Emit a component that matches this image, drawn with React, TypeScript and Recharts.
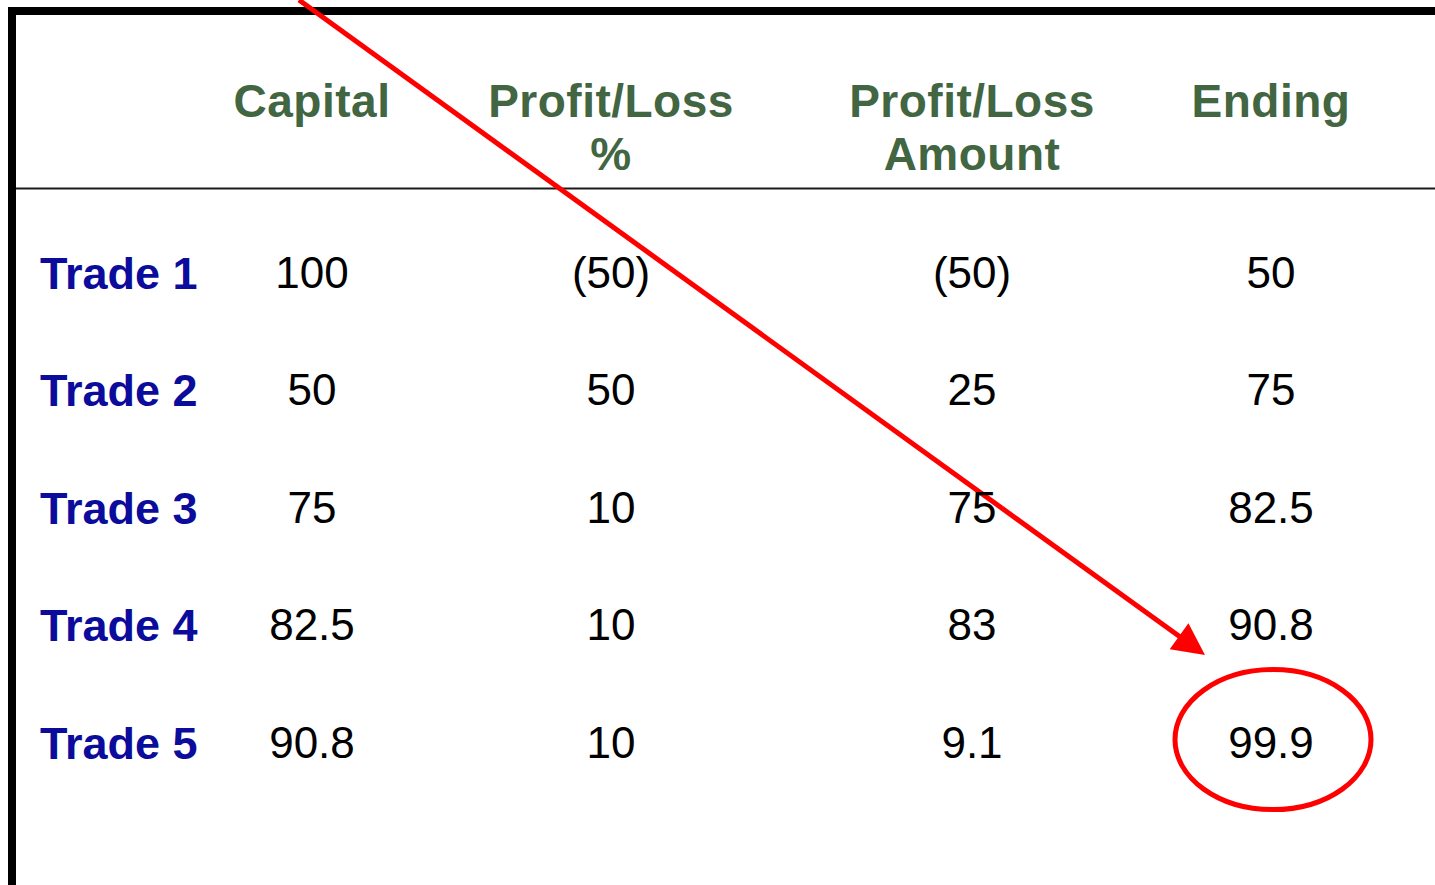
import React from "react";
import {
  ComposedChart,
  XAxis,
  YAxis,
  Scatter,
  ReferenceLine,
  ReferenceDot,
} from "recharts";

// ---- data ----
const trades = ["Trade 1", "Trade 2", "Trade 3", "Trade 4", "Trade 5"];
const headers = [["Capital"], ["Profit/Loss", "%"], ["Profit/Loss", "Amount"], ["Ending"]];
const capital = [100, 50, 75, 82.5, 90.8];
const profitLossPct = [-50, 50, 10, 10, 10];
const profitLossAmt = [-50, 25, 75, 83, 9.1];
const ending = [50, 75, 82.5, 90.8, 99.9];
const highlighted = { column: 3, row: 4 };

// ---- layout ----
const W = 1435;
const H = 885;
const COL_X = [312, 611, 972, 1271];
const LABEL_X = 40;
const ROW_Y0 = 272;
const ROW_STEP = 117.4;
const HEADER_Y = 101;
const HEADER_LINE_GAP = 53;
const FONT = "Arial, 'Liberation Sans', Helvetica, sans-serif";
const GREEN = "#426542";
const BLUE = "#0b0b9c";
const RED = "#ff0000";

const fmt = (v: number) => (v < 0 ? `(${Math.abs(v)})` : `${v}`);

const columns = [capital, profitLossPct, profitLossAmt, ending];

const rowY = (i: number) => ROW_Y0 + i * ROW_STEP;

const headerData = headers.map((lines, c) => ({ x: COL_X[c], y: HEADER_Y, lines }));
const labelData = trades.map((t, i) => ({ x: LABEL_X, y: rowY(i), text: t }));
const cellData = columns.map((vals, c) =>
  vals.map((v, i) => ({ x: COL_X[c], y: rowY(i), text: fmt(v) }))
);

const HeaderShape = (p: any) => {
  const lines: string[] = p.payload.lines;
  return (
    <g>
      {lines.map((l, k) => (
        <text
          key={k}
          x={p.cx}
          y={p.cy + 16 + k * HEADER_LINE_GAP}
          textAnchor="middle"
          fontFamily={FONT}
          fontWeight="bold"
          fontSize={46}
          fill={GREEN}
          letterSpacing={0.5}
        >
          {l}
        </text>
      ))}
    </g>
  );
};

const LabelShape = (p: any) => (
  <text
    x={p.cx}
    y={p.cy + 17}
    textAnchor="start"
    fontFamily={FONT}
    fontWeight="bold"
    fontSize={45}
    fill={BLUE}
  >
    {p.payload.text}
  </text>
);

const CellShape = (p: any) => (
  <text
    x={p.cx}
    y={p.cy + 16}
    textAnchor="middle"
    fontFamily={FONT}
    fontSize={44}
    fill="#000"
  >
    {p.payload.text}
  </text>
);

const ARROW_START = { x: 299, y: 0 };
const ARROW_TIP = { x: 1205, y: 655 };
const HEAD_LEN = 32;
const HEAD_HALF = 16;
const dx = ARROW_TIP.x - ARROW_START.x;
const dy = ARROW_TIP.y - ARROW_START.y;
const len = Math.sqrt(dx * dx + dy * dy);
const ux = dx / len;
const uy = dy / len;
const ARROW_END = { x: ARROW_TIP.x - ux * (HEAD_LEN - 4), y: ARROW_TIP.y - uy * (HEAD_LEN - 4) };

const ArrowHead = (p: any) => {
  const bx = p.cx - ux * HEAD_LEN;
  const by = p.cy - uy * HEAD_LEN;
  const pts = [
    [p.cx, p.cy],
    [bx - uy * HEAD_HALF, by + ux * HEAD_HALF],
    [bx + uy * HEAD_HALF, by - ux * HEAD_HALF],
  ]
    .map((q) => q.join(","))
    .join(" ");
  return <polygon points={pts} fill={RED} />;
};

const EllipseShape = (p: any) => (
  <ellipse cx={p.cx + 2} cy={p.cy - 2} rx={98} ry={70} fill="none" stroke={RED} strokeWidth={5} />
);

export default function App() {
  return (
    <div style={{ position: "absolute", left: 0, top: 0, width: W, height: H, background: "#fff" }}>
      <ComposedChart width={W} height={H} margin={{ top: 0, right: 0, bottom: 0, left: 0 }}>
        <XAxis type="number" dataKey="x" domain={[0, W]} hide allowDataOverflow />
        <YAxis type="number" dataKey="y" domain={[0, H]} reversed hide allowDataOverflow />

        {/* table frame */}
        <ReferenceLine
          segment={[{ x: 8, y: 11 }, { x: W, y: 11 }]}
          stroke="#000"
          strokeWidth={8}
          ifOverflow="visible"
        />
        <ReferenceLine
          segment={[{ x: 12, y: 7 }, { x: 12, y: H }]}
          stroke="#000"
          strokeWidth={8}
          ifOverflow="visible"
        />
        <ReferenceLine
          segment={[{ x: 16, y: 188.5 }, { x: W, y: 188.5 }]}
          stroke="#1a1a1a"
          strokeWidth={2}
          ifOverflow="visible"
        />

        <Scatter data={headerData} shape={HeaderShape} isAnimationActive={false} />
        <Scatter data={labelData} shape={LabelShape} isAnimationActive={false} />
        {cellData.map((d, c) => (
          <Scatter key={c} data={d} shape={CellShape} isAnimationActive={false} />
        ))}

        {/* annotation */}
        <ReferenceLine
          segment={[ARROW_START, ARROW_END]}
          stroke={RED}
          strokeWidth={5}
          ifOverflow="visible"
        />
        <ReferenceDot x={ARROW_TIP.x} y={ARROW_TIP.y} shape={ArrowHead} ifOverflow="visible" />
        <ReferenceDot
          x={COL_X[highlighted.column]}
          y={rowY(highlighted.row)}
          shape={EllipseShape}
          ifOverflow="visible"
        />
      </ComposedChart>
    </div>
  );
}
